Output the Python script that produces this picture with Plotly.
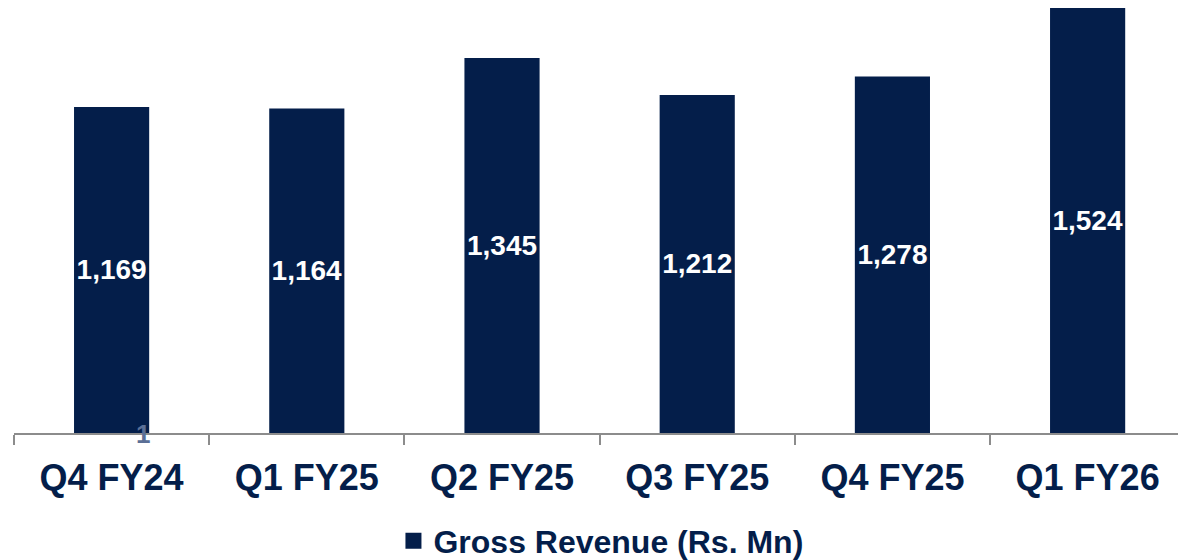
import plotly.graph_objects as go

categories = ["Q4 FY24", "Q1 FY25", "Q2 FY25", "Q3 FY25", "Q4 FY25", "Q1 FY26"]
revenue = [1169, 1164, 1345, 1212, 1278, 1524]
value_labels = ["1,169", "1,164", "1,345", "1,212", "1,278", "1,524"]
series_name = "Gross Revenue (Rs. Mn)"

NAVY = "#041e4a"
FONT = "Arial, Liberation Sans, sans-serif"

fig = go.Figure()
fig.add_trace(go.Bar(
    x=categories, y=revenue, marker=dict(color=NAVY, line=dict(width=0)),
    text=value_labels, textposition="inside", insidetextanchor="middle",
    constraintext="none", textangle=0,
    textfont=dict(family=FONT, size=28, color="white", weight="bold"),
    showlegend=False, hoverinfo="skip",
))
fig.add_trace(go.Scatter(
    x=[None], y=[None], mode="markers", name=series_name,
    marker=dict(symbol="square", size=18, color=NAVY),
))

fig.add_annotation(
    x=categories[0], y=0, xref="x", yref="y", text="<b>1</b>", showarrow=False,
    xshift=31, yshift=-1, font=dict(family=FONT, size=26, color="#5b6f96"),
)

fig.update_layout(
    width=1178, height=560,
    margin=dict(l=14, r=0, t=0, b=127),
    paper_bgcolor="white", plot_bgcolor="white",
    bargap=0.615,
    showlegend=True,
    legend=dict(
        orientation="h", xref="container", yref="container",
        x=0.334, xanchor="left", y=0.034, yanchor="middle",
        font=dict(family=FONT, size=32, color=NAVY, weight="bold"),
        bgcolor="rgba(0,0,0,0)",
    ),
    xaxis=dict(
        range=[-0.5, 5.463], showline=True, linecolor="#8c8c8c", linewidth=2,
        ticks="outside", tickson="boundaries", ticklen=10, tickwidth=2,
        tickcolor="#8c8c8c", showgrid=False, ticklabelstandoff=12,
        tickfont=dict(family=FONT, size=36, color=NAVY, weight="bold"),
    ),
    yaxis=dict(range=[0, 1552.6], visible=False, showgrid=False),
)

fig.write_html("out.html", config={"displayModeBar": False},
               post_script="document.body.style.margin='0';")
